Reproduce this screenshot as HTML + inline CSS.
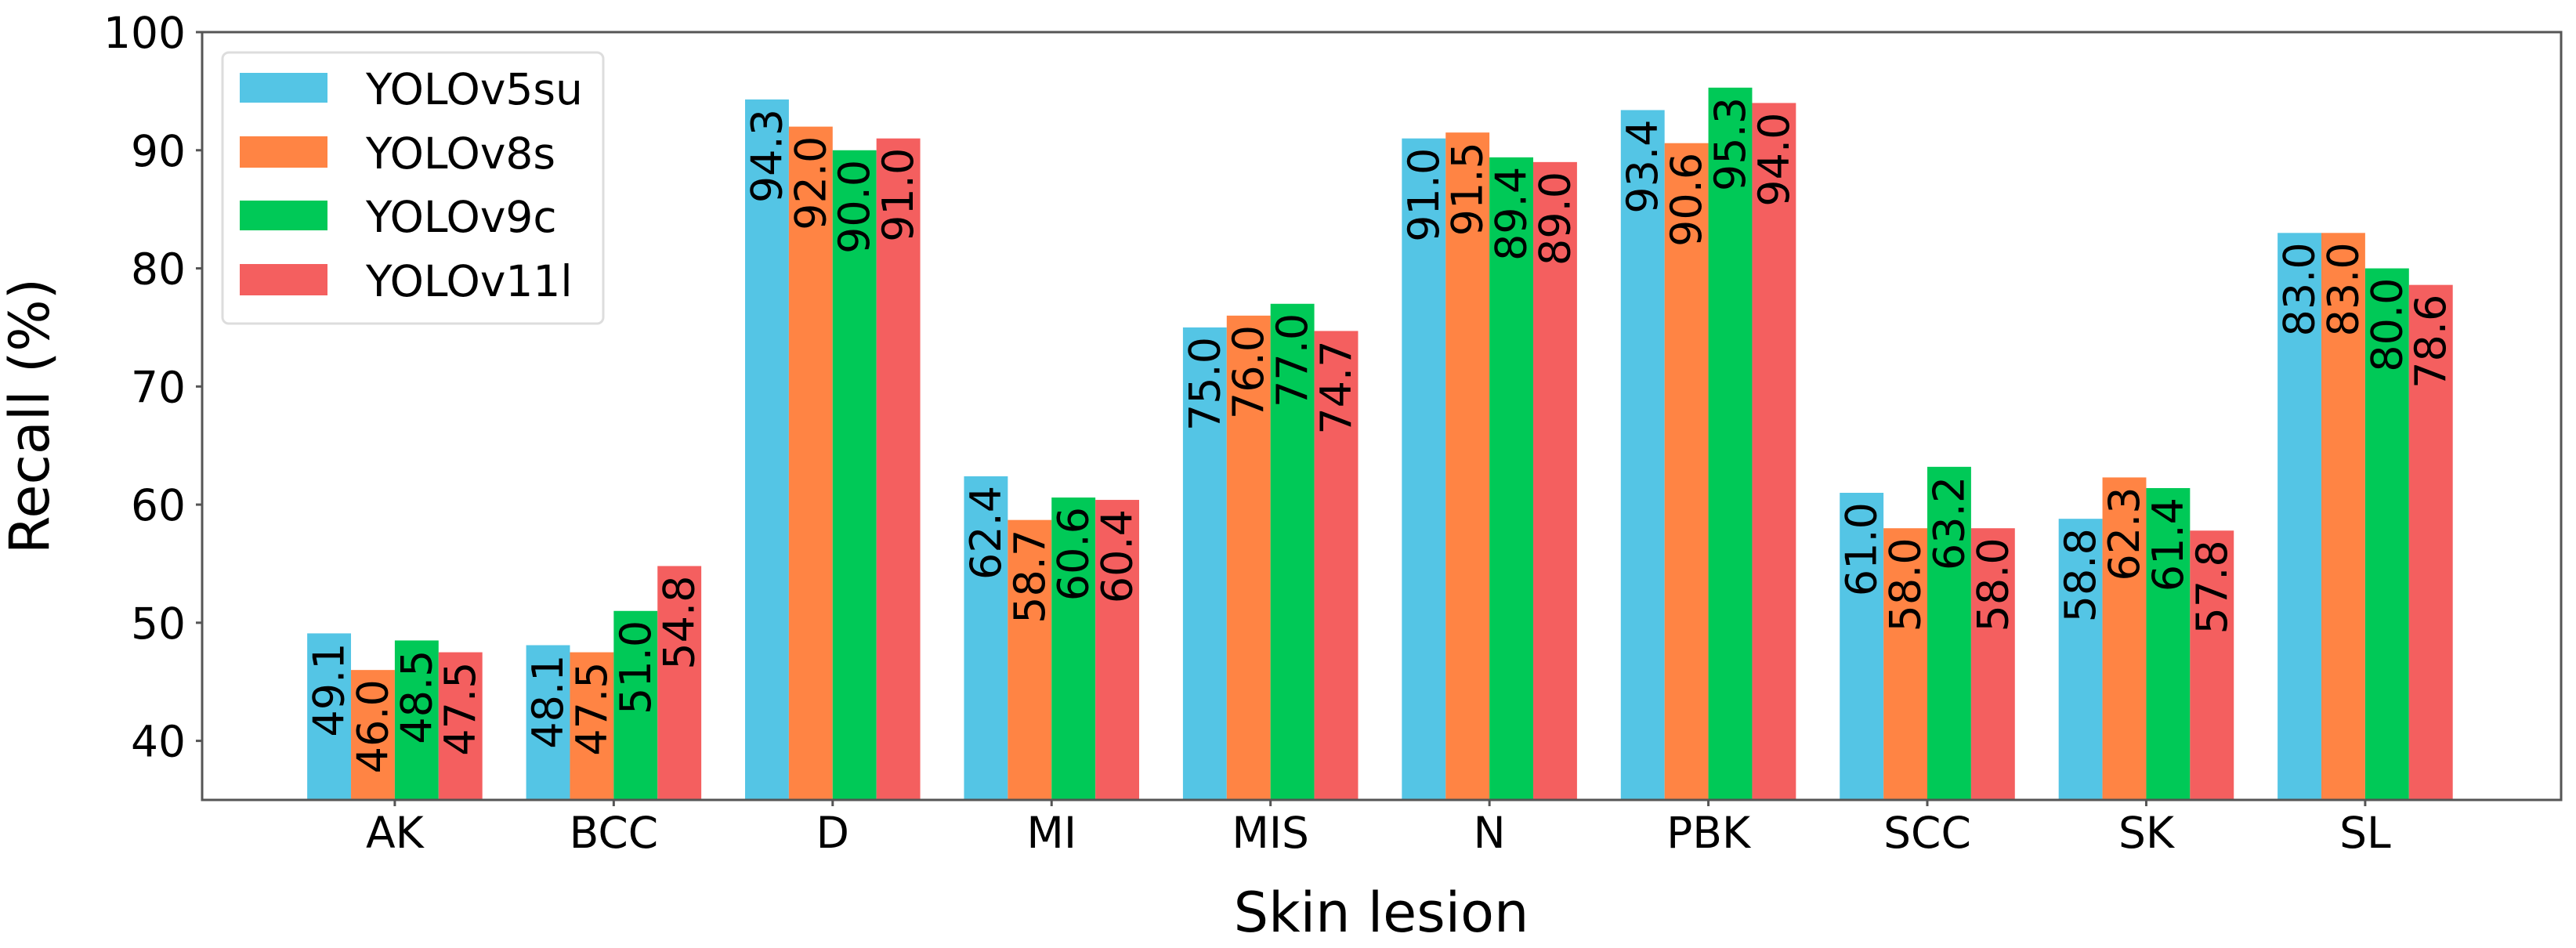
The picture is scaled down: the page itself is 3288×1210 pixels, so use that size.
<!DOCTYPE html>
<html><head><meta charset="utf-8"><style>
html,body{margin:0;padding:0;background:#fff;}
svg{display:block;font-family:"DejaVu Sans","Liberation Sans",sans-serif;}
</style></head><body>
<svg id="chart" width="3288" height="1210" viewBox="0 0 3288 1210" xmlns="http://www.w3.org/2000/svg">
<g id="bars"></g>
<g id="axes"></g>
<text x="1763" y="1189" font-size="70" text-anchor="middle">Skin lesion</text>
<text transform="translate(62,531) rotate(-90)" font-size="70" text-anchor="middle">Recall (%)</text>
<g>
<rect x="284" y="67" width="486" height="346" rx="8" fill="#fff" stroke="#ddd" stroke-width="3"/>
<rect x="306" y="93" width="112" height="38" fill="#54C5E5"/>
<text x="467" y="133" font-size="55">YOLOv5su</text>
<rect x="306" y="174" width="112" height="40" fill="#FF8444"/>
<text x="467" y="215" font-size="55">YOLOv8s</text>
<rect x="306" y="256" width="112" height="38" fill="#00C957"/>
<text x="467" y="296" font-size="55">YOLOv9c</text>
<rect x="306" y="337" width="112" height="40" fill="#F45F5F"/>
<text x="467" y="378" font-size="55">YOLOv11l</text>
</g>
</svg>
<script>
const categories = ["AK","BCC","D","MI","MIS","N","PBK","SCC","SK","SL"];
const seriesNames = ["YOLOv5su","YOLOv8s","YOLOv9c","YOLOv11l"];
const yolov5su = [49.1,48.1,94.3,62.4,75.0,91.0,93.4,61.0,58.8,83.0];
const yolov8s = [46.0,47.5,92.0,58.7,76.0,91.5,90.6,58.0,62.3,83.0];
const yolov9c = [48.5,51.0,90.0,60.6,77.0,89.4,95.3,63.2,61.4,80.0];
const yolov11l = [47.5,54.8,91.0,60.4,74.7,89.0,94.0,58.0,57.8,78.6];
const yTicks = [40,50,60,70,80,90,100];

const seriesValues = [yolov5su,yolov8s,yolov9c,yolov11l];
const colors = ["#54C5E5","#FF8444","#00C957","#F45F5F"];
const NS = "http://www.w3.org/2000/svg";
const L=258,R=3269,T=41,B=1021;
const xMin=-0.88,xMax=9.895,yMin=35,yMax=100;
function xs(v){return L+(v-xMin)/(xMax-xMin)*(R-L);}
function ys(v){return B-(v-yMin)/(yMax-yMin)*(B-T);}
const bw=0.2;
const barsG=document.getElementById('bars');
const axesG=document.getElementById('axes');
function mk(tag,attrs,parent){const e=document.createElementNS(NS,tag);for(const k in attrs)e.setAttribute(k,attrs[k]);parent.appendChild(e);return e;}

seriesValues.forEach((vals,s)=>{
  vals.forEach((v,i)=>{
    const c=i+(s-1.5)*bw;
    const x0=xs(c-bw/2),x1=xs(c+bw/2);
    const r=mk('rect',{x:x0,y:ys(v),width:x1-x0,height:B-ys(v),fill:colors[s]},barsG);
    
    
    const cx=(x0+x1)/2, ty=ys(v)+12;
    const t=mk('text',{transform:'translate('+cx+','+ty+') rotate(-90)','text-anchor':'end','dominant-baseline':'central','font-size':'54'},barsG);
    t.textContent=v.toFixed(1);
    
    
  });
});

const frame=mk('rect',{x:L,y:T,width:R-L,height:B-T,fill:'none',stroke:'#555',"stroke-width":3},axesG);



yTicks.forEach(v=>{
  const y=ys(v);
  const tk=mk('line',{x1:L-8,x2:L,y1:y,y2:y,stroke:'#555',"stroke-width":3},axesG);
  
  
  const t=mk('text',{x:237,y:y+20,'text-anchor':'end','font-size':'55'},axesG);
  t.textContent=v;
  
  
});
categories.forEach((c,i)=>{
  const x=xs(i);
  const tk=mk('line',{x1:x,x2:x,y1:B,y2:B+8,stroke:'#555',"stroke-width":3},axesG);
  
  
  const t=mk('text',{x:x,y:1082,'text-anchor':'middle','font-size':'55'},axesG);
  t.textContent=c;
  
  
});
</script>
</body></html>
